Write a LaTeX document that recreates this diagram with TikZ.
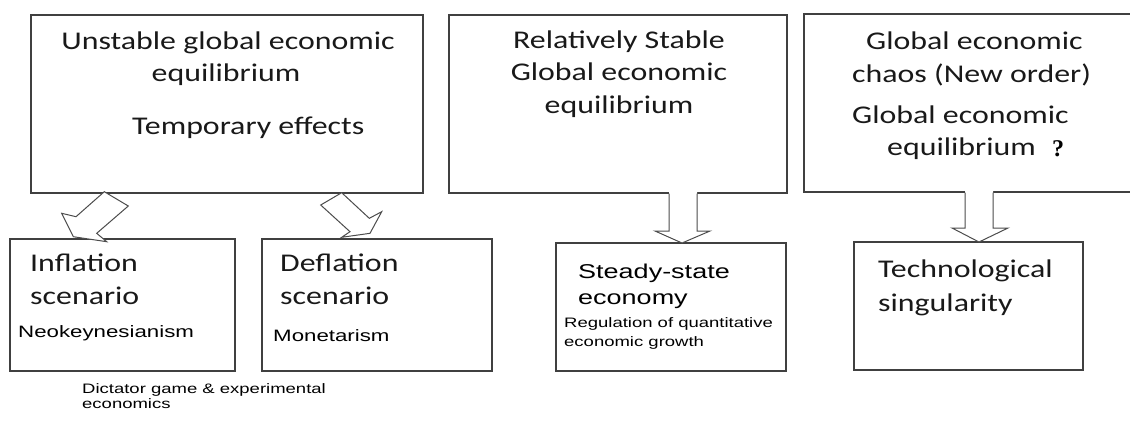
\documentclass[tikz,border=0pt]{standalone}
\usepackage{fontspec}
\setmainfont{Carlito}[FakeStretch=1.25]
\newfontfamily\arialfont{Liberation Sans}[FakeStretch=1.35]
\newfontfamily\serffont{Liberation Serif}

\begin{document}
\begin{tikzpicture}[x=1pt,y=-1pt,
    box/.style={draw=black!75,line width=1.2pt,inner sep=0pt},
    blk/.style={draw=black!70,line width=1pt,line join=miter},
    cal/.style={font=\fontsize{25.5}{33}\selectfont,inner sep=0pt,text=black!90},
    ari/.style={font=\arialfont\fontsize{16.5}{20}\selectfont,inner sep=0pt},
    arismall/.style={font=\arialfont\fontsize{13.7}{16}\selectfont,inner sep=0pt}]
    \useasboundingbox (0,0) rectangle (1130,421);

    % top row
    \node[box,minimum width=392pt,minimum height=178pt] (unstable) at (227,104) {};
    \node[box,minimum width=338pt,minimum height=178pt] (stable) at (618,104) {};
    \node[box,minimum width=341pt,minimum height=178pt] (chaos) at (974.5,103) {};

    % bottom row
    \node[box,minimum width=225pt,minimum height=132pt] (inflation) at (122.5,305) {};
    \node[box,minimum width=230pt,minimum height=132pt] (deflation) at (377,305) {};
    \node[box,minimum width=230pt,minimum height=128pt] (steady) at (671,307) {};
    \node[box,minimum width=229pt,minimum height=128pt] (techsing) at (968.5,306) {};

    % hollow arrows
    \filldraw[blk,fill=white] (104.3,191.7) -- (128.3,206) -- (96.7,233.3) -- (106.7,241.7)
        -- (73.3,236.7) -- (61.7,213.3) -- (76,216.7) -- cycle;
    \filldraw[blk,fill=white] (341.7,192.7) -- (369.3,218.3) -- (381.7,211.7) -- (370,233.3)
        -- (341.7,237.3) -- (350,231.7) -- (320.7,205) -- cycle;
    \fill[white] (669,192) -- (669,231) -- (655,231) -- (682,243) -- (710,231) -- (697,231) -- (697,192) -- cycle;
    \draw[blk] (669,193.5) -- (669,231) -- (655,231) -- (682,243) -- (710,231) -- (697,231) -- (697,193.5);
    \fill[white] (965,191) -- (965,228) -- (952,228) -- (979,242) -- (1008,228) -- (993,228) -- (993,191) -- cycle;
    \draw[blk] (965,192.5) -- (965,228) -- (952,228) -- (979,242) -- (1008,228) -- (993,228) -- (993,192.5);

    % texts of the top row
    \node[cal,anchor=base] (u1) at (228,49) {Unstable global economic};
    \node[cal,anchor=base] (u2) at (226,81) {equilibrium};
    \node[cal,anchor=base west] (u3) at (132,134) {Temporary effects};

    \node[cal,anchor=base] (s1) at (619,48) {Relatively Stable};
    \node[cal,anchor=base] (s2) at (619,80) {Global economic};
    \node[cal,anchor=base] (s3) at (619,113) {equilibrium};

    \node[cal,anchor=base west] (c1) at (866,49) {Global economic};
    \node[cal,anchor=base west] (c2) at (852,82) {chaos (New order)};
    \node[cal,anchor=base west] (c3) at (852,123) {Global economic};
    \node[cal,anchor=base west] (c4) at (887,155) {equilibrium};
    \node[font=\serffont\bfseries\fontsize{24}{28}\selectfont,inner sep=0pt,anchor=base west] (c5) at (1052,156) {?};

    % texts of the bottom row
    \node[cal,anchor=base west] (i1) at (30,271) {Inflation};
    \node[cal,anchor=base west] (i2) at (30,304) {scenario};
    \node[ari,anchor=base west] (i3) at (18,337) {Neokeynesianism};

    \node[cal,anchor=base west] (d1) at (280,271) {Deflation};
    \node[cal,anchor=base west] (d2) at (280,304) {scenario};
    \node[ari,anchor=base west] (d3) at (273,341) {Monetarism};

    \node[ari,font=\arialfont\fontsize{20}{24}\selectfont,anchor=base west] (e1) at (578,278) {Steady-state};
    \node[ari,font=\arialfont\fontsize{20}{24}\selectfont,anchor=base west] (e2) at (578,304) {economy};
    \node[arismall,anchor=base west] (e3) at (564,327) {Regulation of quantitative};
    \node[arismall,anchor=base west] (e4) at (564,346) {economic growth};

    \node[cal,anchor=base west] (t1) at (878,277) {Technological};
    \node[cal,anchor=base west] (t2) at (878,311) {singularity};

    \node[arismall,anchor=base west] (g1) at (82,393) {Dictator game \& experimental};
    \node[arismall,anchor=base west] (g2) at (82,408) {economics};
\end{tikzpicture}
\end{document}
